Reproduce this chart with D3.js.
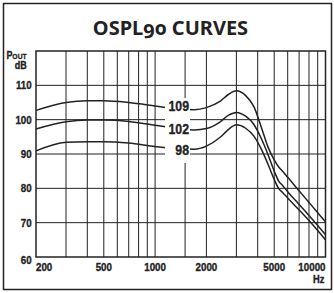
<!DOCTYPE html>
<html><head><meta charset="utf-8">
<script src="https://cdn.jsdelivr.net/npm/d3@7/dist/d3.min.js"></script>
<style>body{margin:0;background:#fff}</style>
</head><body><svg id="c" width="334" height="293"></svg>
<script>
const title = "OSPL90 CURVES";
const freqs = [200,300,400,500,700,1000,1400,1700,2000,2400,2700,3000,3400,3800,4200,4600,5000,5300,5600,6000,7000,8000,9000,10000];
const curve109 = [102.7,105.0,105.5,105.5,105.0,104.0,103.0,102.9,103.5,105.3,107.4,108.4,107.0,103.8,97.8,92.0,88.3,86.3,85.0,83.2,79.3,75.9,72.9,70.2];
const curve102 = [97.3,99.4,99.9,99.9,99.5,98.4,97.3,97.0,97.4,99.3,101.3,102.1,101.0,98.6,94.5,89.8,85.0,82.2,80.8,79.0,75.3,72.1,69.2,66.5];
const curve98  = [90.9,93.4,93.6,93.6,93.2,92.2,91.5,91.4,92.3,94.8,97.2,98.5,97.5,95.2,91.4,87.0,82.6,80.0,78.8,77.2,73.7,70.6,67.7,65.0];
const seriesNames = ["109","102","98"];
const gridFreqs = [300,400,500,600,700,800,900,1000,1500,2000,3000,4000,5000,6000,7000,8000,9000];
const xTickLabels = [200,500,1000,2000,5000,10000];
const yTicks = [60,70,80,90,100,110];

const svg = d3.select("#c");
const L=36, T=51, R=325.5, B=257;
const x = d3.scaleLog().domain([200,10000]).range([L,R]);
const y = d3.scaleLinear().domain([60,120]).range([B,T]);
const ink = "#222";
const cond = "'Liberation Sans',Arial,sans-serif";

function ctext(parent, px, py, str, size, anchor, sx){
  const gg = parent.append("g").attr("transform",`translate(${px},${py}) scale(${sx},1)`);
  return gg.append("text").attr("x",0).attr("y",0).attr("text-anchor",anchor)
    .attr("font-family",cond).attr("font-weight","bold").attr("font-size",size)
    .attr("fill",ink).attr("stroke",ink).attr("stroke-width",0.35).text(str);
}

svg.append("rect").attr("x",3.5).attr("y",3.5).attr("width",328).attr("height",286)
  .attr("fill","none").attr("stroke",ink).attr("stroke-width",1.5);

svg.append("text").attr("x",170.5).attr("y",35).attr("text-anchor","middle")
  .attr("font-family","'Noto Sans',sans-serif").attr("font-weight","bold")
  .attr("font-size",20).style("font-variant-numeric","oldstyle-nums")
  .attr("fill",ink).text(title);

const g = svg.append("g");
g.selectAll(".vg").data(gridFreqs).join("line")
  .attr("x1",d=>x(d)).attr("x2",d=>x(d)).attr("y1",T).attr("y2",B)
  .attr("stroke",ink).attr("stroke-width",1);
g.selectAll(".hg").data(yTicks.slice(1)).join("line")
  .attr("x1",L).attr("x2",R).attr("y1",d=>y(d)).attr("y2",d=>y(d))
  .attr("stroke",ink).attr("stroke-width",1);

const line = d3.line().x(d=>x(d[0])).y(d=>y(d[1])).curve(d3.curveMonotoneX);
[curve109,curve102,curve98].forEach(s=>{
  g.append("path").attr("d",line(freqs.map((f,i)=>[f,s[i]])))
    .attr("fill","none").attr("stroke",ink).attr("stroke-width",1.5);
});

// label box
g.append("rect").attr("x",165).attr("y",98).attr("width",25).attr("height",65).attr("fill","#fff");
const labY = [111, 134, 154.5];
seriesNames.forEach((n,i)=>{ ctext(g, 189, labY[i], n, 14, "end", 0.88); });

svg.append("rect").attr("x",L).attr("y",T).attr("width",R-L).attr("height",B-T)
  .attr("fill","none").attr("stroke",ink).attr("stroke-width",1.5);

// y labels
yTicks.forEach(d=>{ ctext(svg, 31.7, y(d)+4+(d===60?3:0), d, 11.5, "end", 0.85); });

// x labels
xTickLabels.forEach(d=>{
  const px = d===200?L:(d===10000?R:x(d));
  const an = d===200?"start":(d===10000?"end":"middle");
  ctext(svg, px, 270.5, d, 11.5, an, 0.85);
});
ctext(svg, R-1, 282.5, "Hz", 11, "end", 0.85);

// y unit
const pg = svg.append("g").attr("transform","translate(26.7,59) scale(0.85,1)");
const pt = pg.append("text").attr("text-anchor","end")
  .attr("font-family",cond).attr("font-weight","bold").attr("fill",ink)
  .attr("stroke",ink).attr("stroke-width",0.3);
pt.append("tspan").attr("font-size",10.5).text("P");
pt.append("tspan").attr("font-size",8).text("OUT");
ctext(svg, 26.7, 68.8, "dB", 10.5, "end", 0.85);
</script></body></html>
